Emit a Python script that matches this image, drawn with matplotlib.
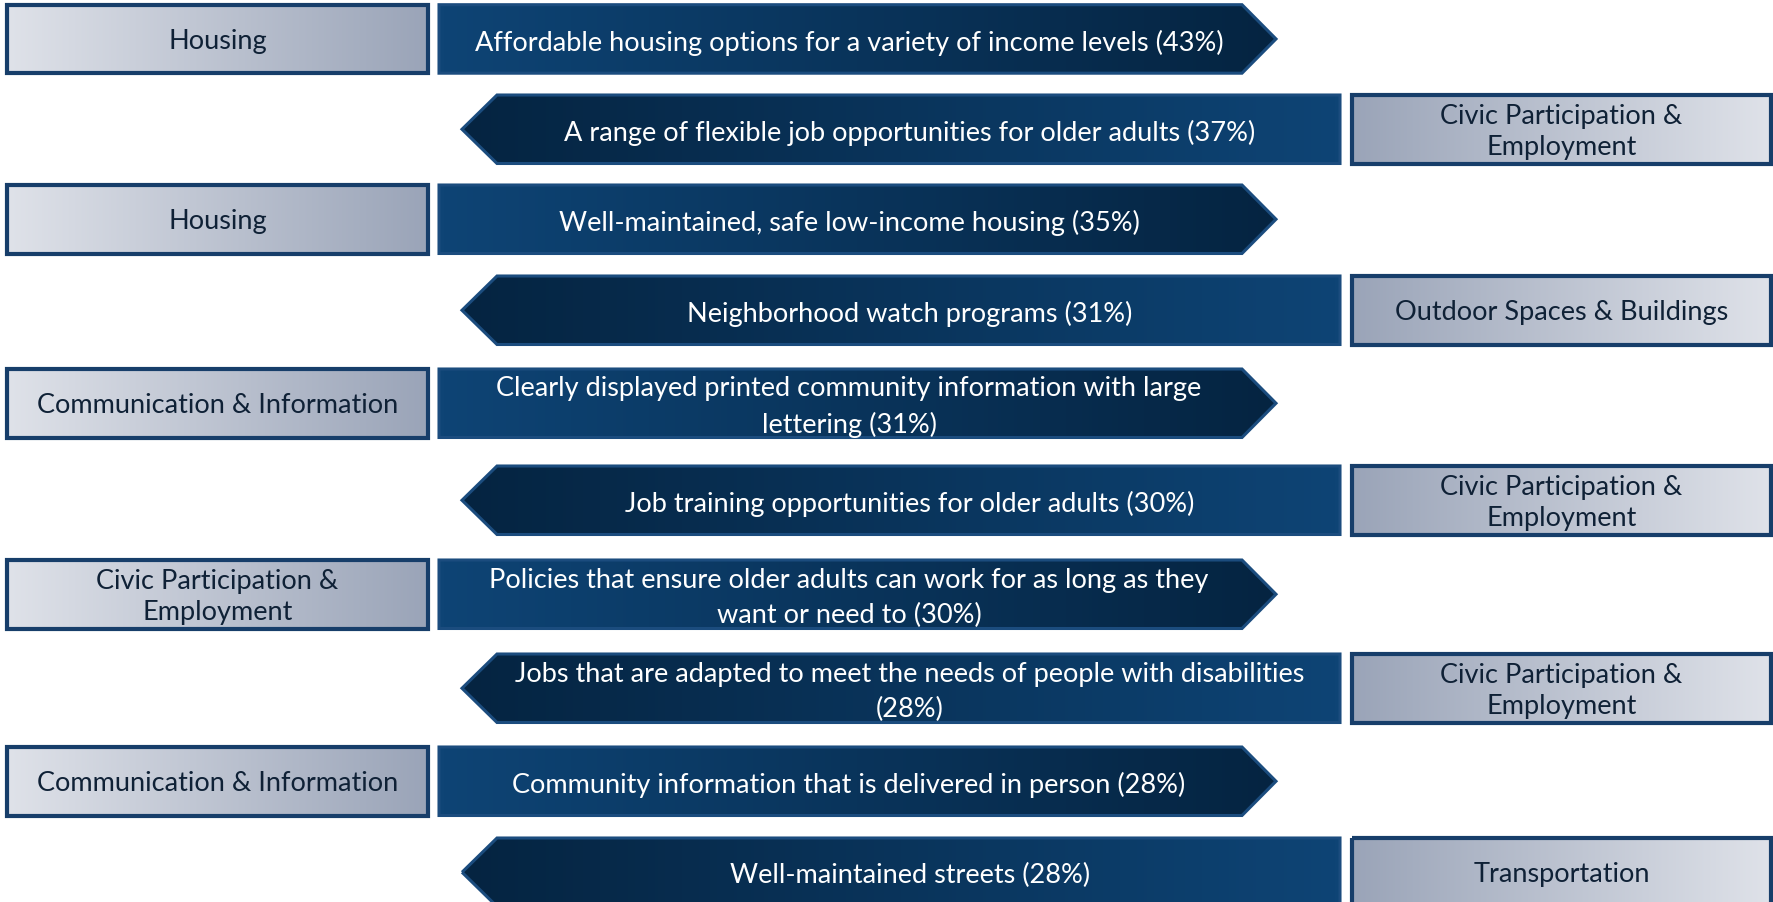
import numpy as np
import matplotlib
matplotlib.use("Agg")
import matplotlib.pyplot as plt
from matplotlib.patches import Polygon
from matplotlib.colors import LinearSegmentedColormap

# ---------------- data ----------------
labels = [
    "Affordable housing options for a variety of income levels",
    "A range of flexible job opportunities for older adults",
    "Well-maintained, safe low-income housing",
    "Neighborhood watch programs",
    "Clearly displayed printed community information with large\nlettering",
    "Job training opportunities for older adults",
    "Policies that ensure older adults can work for as long as they\nwant or need to",
    "Jobs that are adapted to meet the needs of people with disabilities\n",
    "Community information that is delivered in person",
    "Well-maintained streets",
]
percentages = [43, 37, 35, 31, 31, 30, 30, 28, 28, 28]
domains = [
    "Housing",
    "Civic Participation &\nEmployment",
    "Housing",
    "Outdoor Spaces & Buildings",
    "Communication & Information",
    "Civic Participation &\nEmployment",
    "Civic Participation &\nEmployment",
    "Civic Participation &\nEmployment",
    "Communication & Information",
    "Transportation",
]

# ---------------- layout (pixels) ----------------
W, H = 1773, 902
row_tops = [4.7, 95, 185, 276, 369, 466, 560, 654, 747, 838]
row_h = 68.5
lbox = (7, 428)
rbox = (1352, 1771)
r_arrow = (439, 1242, 1276)   # start, shoulder, tip
l_arrow = (462, 497, 1340)    # tip, shoulder, end
text_dy = 3.5

arrow_light = "#0e4475"
arrow_dark = "#052441"
arrow_edge = "#1b4c7e"
box_light = "#dfe2e9"
box_dark = "#9aa4b8"
box_edge = "#173e6a"
box_text = "#0f2136"

FONT = ["Lato", "DejaVu Sans"]
FS = 19.5

fig = plt.figure(figsize=(W / 100, H / 100), dpi=100)
fig.patch.set_facecolor("white")
ax = fig.add_axes([0, 0, 1, 1])
ax.set_xlim(0, W)
ax.set_ylim(H, 0)
ax.axis("off")


def grad_shape(verts, c_left, c_right, edge, lw, z):
    verts = np.asarray(verts, dtype=float)
    poly = Polygon(verts, closed=True, facecolor="none", edgecolor="none")
    ax.add_patch(poly)
    x0, x1 = verts[:, 0].min(), verts[:, 0].max()
    y0, y1 = verts[:, 1].min(), verts[:, 1].max()
    cmap = LinearSegmentedColormap.from_list("g", [c_left, c_right])
    img = ax.imshow(np.linspace(0, 1, 256)[None, :], cmap=cmap, extent=(x0, x1, y1, y0),
                    aspect="auto", zorder=z, interpolation="bilinear")
    img.set_clip_path(poly)
    outline = Polygon(verts, closed=True, facecolor="none", edgecolor=edge, lw=lw,
                      joinstyle="miter", zorder=z + 0.5)
    ax.add_patch(outline)


def box_label(x, y, s):
    ax.text(x, y + text_dy - 1, s, ha="center", va="center", fontsize=FS,
            color=box_text, family=FONT, linespacing=1.32, zorder=5)


for i, (lab, pct, dom) in enumerate(zip(labels, percentages, domains)):
    top = row_tops[i]
    bot = top + row_h
    mid = top + row_h / 2
    text = f"{lab}({pct}%)" if lab.endswith("\n") else f"{lab} ({pct}%)"
    if i % 2 == 0:
        # category box on the left, arrow pointing right
        bx0, bx1 = lbox
        grad_shape([(bx0, top), (bx1, top), (bx1, bot), (bx0, bot)],
                   box_light, box_dark, box_edge, 3.0, 2)
        box_label((bx0 + bx1) / 2, mid, dom)
        a0, sh, tip = r_arrow
        grad_shape([(a0, top), (sh, top), (tip, mid), (sh, bot), (a0, bot)],
                   arrow_light, arrow_dark, arrow_edge, 2.2, 2)
        cx = (a0 + tip) / 2 - (tip - sh) / 4
    else:
        tip, sh, a1 = l_arrow
        grad_shape([(tip, mid), (sh, top), (a1, top), (a1, bot), (sh, bot)],
                   arrow_dark, arrow_light, arrow_edge, 2.2, 2)
        cx = (tip + a1) / 2 + (sh - tip) / 4
        bx0, bx1 = rbox
        grad_shape([(bx0, top), (bx1, top), (bx1, bot), (bx0, bot)],
                   box_dark, box_light, box_edge, 3.0, 2)
        box_label((bx0 + bx1) / 2, mid, dom)
    ax.text(cx, mid + text_dy, text, ha="center", va="center", fontsize=FS, color="white",
            family=FONT, linespacing=1.5, zorder=5)

fig.savefig("out.png", dpi=100, facecolor="white")
